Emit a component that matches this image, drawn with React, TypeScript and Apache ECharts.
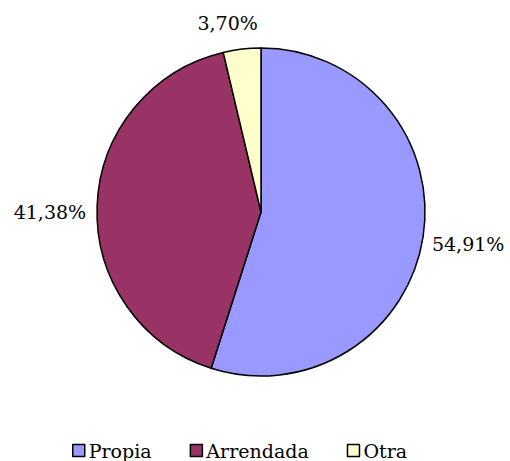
import React, { useEffect, useRef } from "react";
import * as echarts from "echarts";

const categories = ["Propia", "Arrendada", "Otra"];
const values = [54.91, 41.38, 3.7];
const labels = ["54,91%", "41,38%", "3,70%"];
const colors = ["#9999FF", "#993366", "#FFFFCC"];

export default function App() {
  const ref = useRef<HTMLDivElement>(null);
  useEffect(() => {
    const chart = echarts.init(ref.current!, undefined, { renderer: "svg" });
    const font = "'DejaVu Serif', serif";
    const labelShift = [
      [-10, 5],
      [8, 7],
      [26, -16],
    ];
    chart.setOption({
      animation: false,
      backgroundColor: "#ffffff",
      legend: {
        top: 441,
        left: 72,
        padding: 0,
        itemWidth: 12,
        itemHeight: 12,
        itemGap: 38,
        icon: "rect",
        textStyle: {
          fontFamily: font,
          fontSize: 19,
          color: "#000",
          padding: [0, 0, 0, -1],
        },
        itemStyle: { borderColor: "#000", borderWidth: 1.5 },
        data: categories,
      },
      series: [
        {
          type: "pie",
          center: [261, 212],
          radius: 164,
          startAngle: 90,
          clockwise: true,
          emphasis: { disabled: true },
          itemStyle: { borderColor: "#000", borderWidth: 1.5 },
          label: {
            show: true,
            position: "outside",
            formatter: (p: any) => labels[p.dataIndex],
            fontFamily: font,
            fontSize: 19,
            color: "#000",
            overflow: "none",
          },
          labelLine: { show: false, length: 10, length2: 4 },
          labelLayout: (p: any) => ({
            dx: labelShift[p.dataIndex][0],
            dy: labelShift[p.dataIndex][1],
          }),
          data: categories.map((c, i) => ({
            name: c,
            value: values[i],
            itemStyle: { color: colors[i] },
          })),
        },
      ],
    });
    return () => chart.dispose();
  }, []);
  return (
    <div
      ref={ref}
      style={{ position: "fixed", left: 0, top: 0, width: 510, height: 461 }}
    />
  );
}
